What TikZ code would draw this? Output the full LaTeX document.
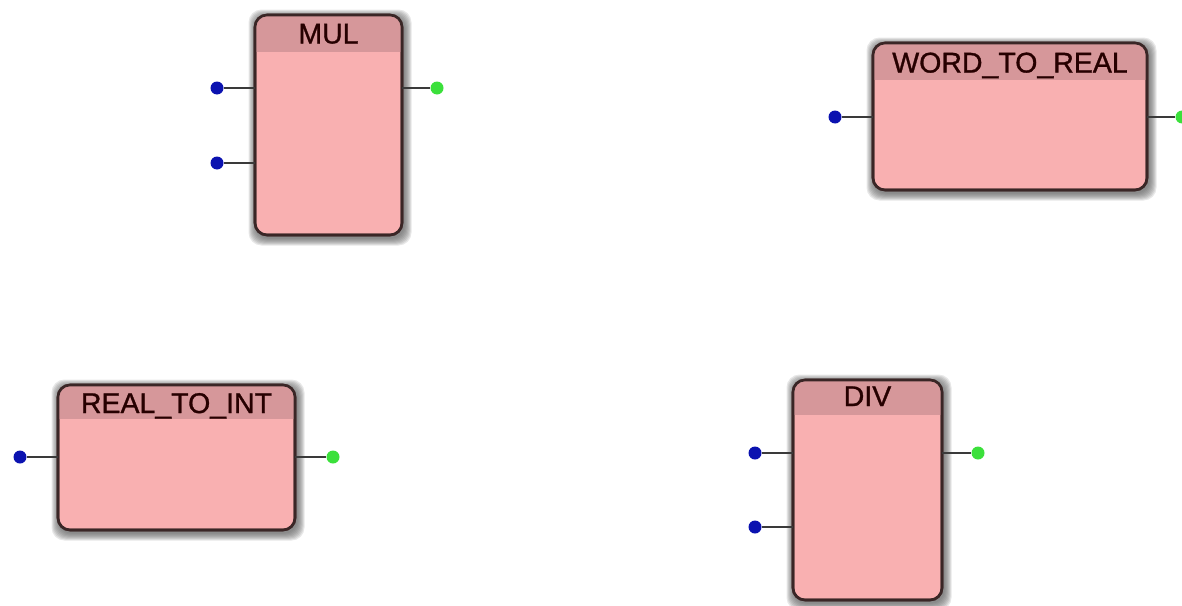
\documentclass[tikz,border=0pt]{standalone}
\usepackage{fontspec}
\setmainfont{Liberation Sans}
\newfontfamily\blockfont[FakeBold=1]{Liberation Sans}
\usetikzlibrary{backgrounds}
\definecolor{bodypink}{HTML}{F9B0B1}
\definecolor{headpink}{HTML}{D6979A}
\definecolor{rim}{HTML}{3A2626}
\definecolor{halo}{HTML}{5E5E5E}
\definecolor{pinblue}{HTML}{0B12B0}
\definecolor{pingreen}{HTML}{3BE03B}
\definecolor{wire}{HTML}{3A3A3A}
\tikzset{
  fblock/.style={draw=rim, line width=2.6pt, fill=bodypink, rounded corners=12pt,
    inner sep=0pt, outer sep=0pt},
  ftitle/.style={anchor=base, inner sep=0pt, text=black!85!red,
    font=\blockfont\fontsize{28.5}{30}\selectfont},
  inpin/.style={circle, fill=pinblue, inner sep=0pt, minimum width=11pt, minimum height=13pt},
  outpin/.style={circle, fill=pingreen, inner sep=0pt, minimum size=13pt},
  wireline/.style={draw=wire, line width=1.8pt},
}
% header band of a function block, clipped to its rounded outline
\newcommand{\blockhead}[2]{%
  \begin{scope}
    \clip[rounded corners=12pt] (#1.north west) rectangle (#1.south east);
    \fill[headpink] (#1.north west) rectangle ([yshift=-#2pt]#1.north east);
  \end{scope}
  \draw[rim, line width=2.6pt, rounded corners=12pt] (#1.north west) rectangle (#1.south east);}
% soft grey halo behind a block
\newcommand{\blockhalo}[1]{%
  \begin{scope}[on background layer]
    \foreach \k in {1,...,8}
      \fill[halo, opacity=0.15, rounded corners=13pt]
        ([shift={(-\k+1.5,-\k+2.5)}]#1.north west) rectangle ([shift={(\k+1.5,\k+2.5)}]#1.south east);
  \end{scope}}
\begin{document}
\begin{tikzpicture}[x=1pt, y=-1pt]
\useasboundingbox (0,0) rectangle (1182,605);

% ---- MUL ----
\node[fblock, minimum width=147pt, minimum height=220pt] (mul) at (328.5,125) {};
\blockhead{mul}{37}
\blockhalo{mul}
\node[ftitle] (mulT) at ([yshift=-28.5pt]mul.north) {MUL};
\node[inpin] (mulA) at (217,88) {};
\node[inpin] (mulB) at (217,163) {};
\node[outpin] (mulQ) at (437,88) {};
\draw[wireline] (mulA) -- (mulA -| mul.west);
\draw[wireline] (mulB) -- (mulB -| mul.west);
\draw[wireline] (mulQ -| mul.east) -- (mulQ);

% ---- WORD_TO_REAL ----
\node[fblock, minimum width=274pt, minimum height=147pt] (wtr) at (1010,116.5) {};
\blockhead{wtr}{37}
\blockhalo{wtr}
\node[ftitle] (wtrT) at ([yshift=-29.5pt]wtr.north) {WORD\_TO\_REAL};
\node[inpin] (wtrA) at (835,117) {};
\node[outpin] (wtrQ) at (1182,117) {};
\draw[wireline] (wtrA) -- (wtrA -| wtr.west);
\draw[wireline] (wtrQ -| wtr.east) -- (wtrQ);

% ---- REAL_TO_INT ----
\node[fblock, minimum width=237pt, minimum height=145pt] (rti) at (176.5,457.5) {};
\blockhead{rti}{34}
\blockhalo{rti}
\node[ftitle] (rtiT) at ([yshift=-28pt]rti.north) {REAL\_TO\_INT};
\node[inpin] (rtiA) at (20,457) {};
\node[outpin] (rtiQ) at (333,457) {};
\draw[wireline] (rtiA) -- (rtiA -| rti.west);
\draw[wireline] (rtiQ -| rti.east) -- (rtiQ);

% ---- DIV ----
\node[fblock, minimum width=149pt, minimum height=220pt] (div) at (867.5,490) {};
\blockhead{div}{35}
\blockhalo{div}
\node[ftitle] (divT) at ([yshift=-26pt]div.north) {DIV};
\node[inpin] (divA) at (755,453) {};
\node[inpin] (divB) at (755,527) {};
\node[outpin] (divQ) at (978,453) {};
\draw[wireline] (divA) -- (divA -| div.west);
\draw[wireline] (divB) -- (divB -| div.west);
\draw[wireline] (divQ -| div.east) -- (divQ);
\end{tikzpicture}
\end{document}
